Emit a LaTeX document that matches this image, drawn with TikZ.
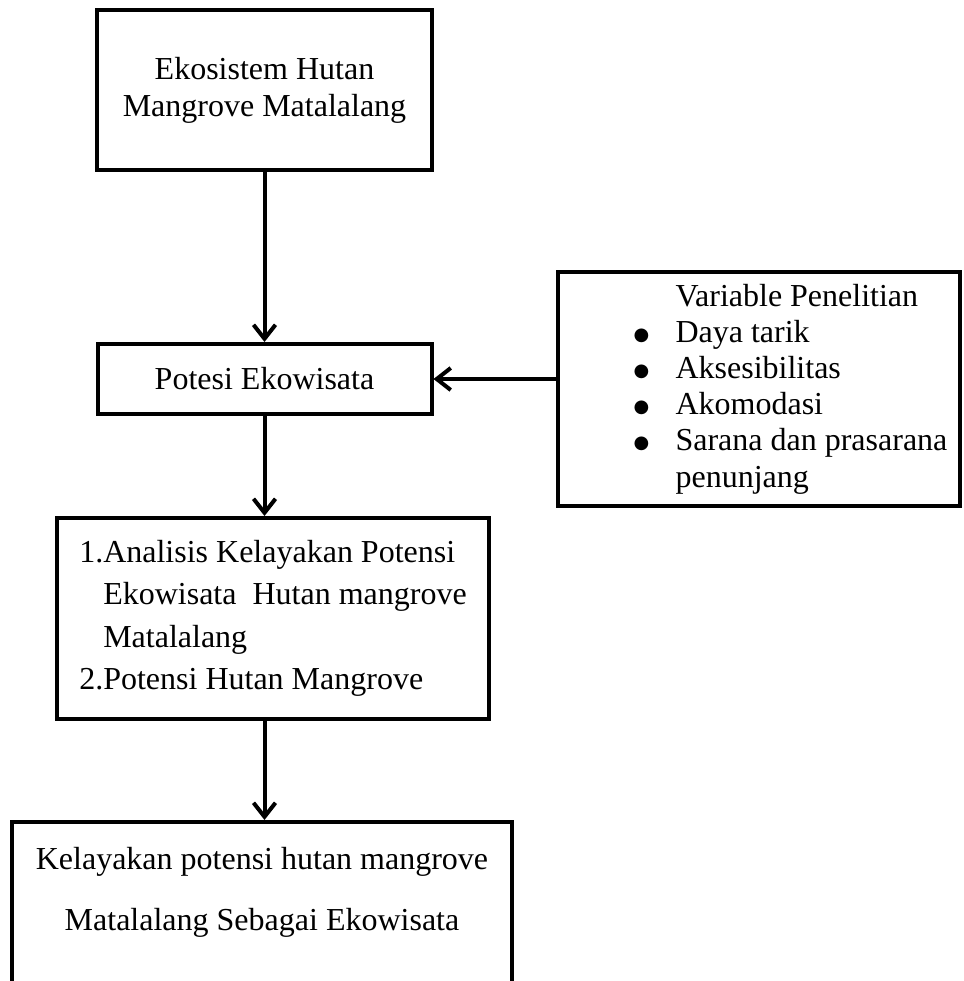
\documentclass[tikz,border=0pt]{standalone}
\usepackage{fontspec}
\setmainfont{Liberation Serif}
\newfontfamily\mySym{DejaVu Sans}
\usetikzlibrary{positioning,calc,arrows.meta}
\newcommand{\myItem}[1]{\hspace*{32pt}\makebox[21pt][l]{\raisebox{1pt}{\mySym\fontsize{9pt}{9pt}\selectfont ●}}#1}
\newcommand{\myHang}[1]{\hspace*{53pt}#1}

\begin{document}
\begin{tikzpicture}[x=0.5pt,y=-0.5pt,every text node part/.style={align=center}]
\tikzset{myFont/.style={font=\fontsize{16pt}{18.5pt}\selectfont}}
\tikzset{myBox/.style={draw,line width=2pt,myFont}}
\tikzset{myLeft/.style={every text node part/.style={align=left}}}
\tikzset{myArrow/.style={line width=2pt,-{Straight Barb[length=7pt,width=11pt]}}}

\useasboundingbox (0,0) rectangle (964,981);

\node[myBox,minimum width=167.5pt,minimum height=80pt] (eko) at (264.5,90) {Ekosistem Hutan\\Mangrove Matalalang};
\node[myBox,minimum width=167pt,minimum height=35pt,below=85pt of eko] (potensi) {Potesi Ekowisata};
\node[myBox,myLeft,minimum width=216pt,minimum height=100.5pt,font=\fontsize{16pt}{21.25pt}\selectfont,below=50pt of potensi,xshift=4.25pt] (analisis) {1.Analisis Kelayakan Potensi\\\phantom{1.}Ekowisata\ \ Hutan mangrove\\\phantom{1.}Matalalang\\2.Potensi Hutan Mangrove};
\node[myBox,minimum width=250pt,inner ysep=12.5pt,font=\fontsize{16pt}{30.5pt}\selectfont,below=49.5pt of analisis,xshift=-5.5pt] (kelayakan) {Kelayakan potensi hutan mangrove\\Matalalang Sebagai Ekowisata\\\strut};
\node[myBox,myLeft,minimum width=201pt,minimum height=117pt,font=\fontsize{16pt}{18.1pt}\selectfont,right=61pt of potensi,yshift=-5pt] (variabel) {\myHang{Variable Penelitian}\\\myItem{Daya tarik}\\\myItem{Aksesibilitas}\\\myItem{Akomodasi}\\\myItem{Sarana dan prasarana}\\\myHang{penunjang}};

\draw[myArrow] (eko) -- (potensi);
\draw[myArrow] (potensi.south) -- (potensi.south |- analisis.north);
\draw[myArrow] (analisis.south -| potensi.south) -- (kelayakan.north -| potensi.south);
\draw[myArrow] (variabel.west |- potensi.east) -- (potensi.east);

\end{tikzpicture}
\end{document}
